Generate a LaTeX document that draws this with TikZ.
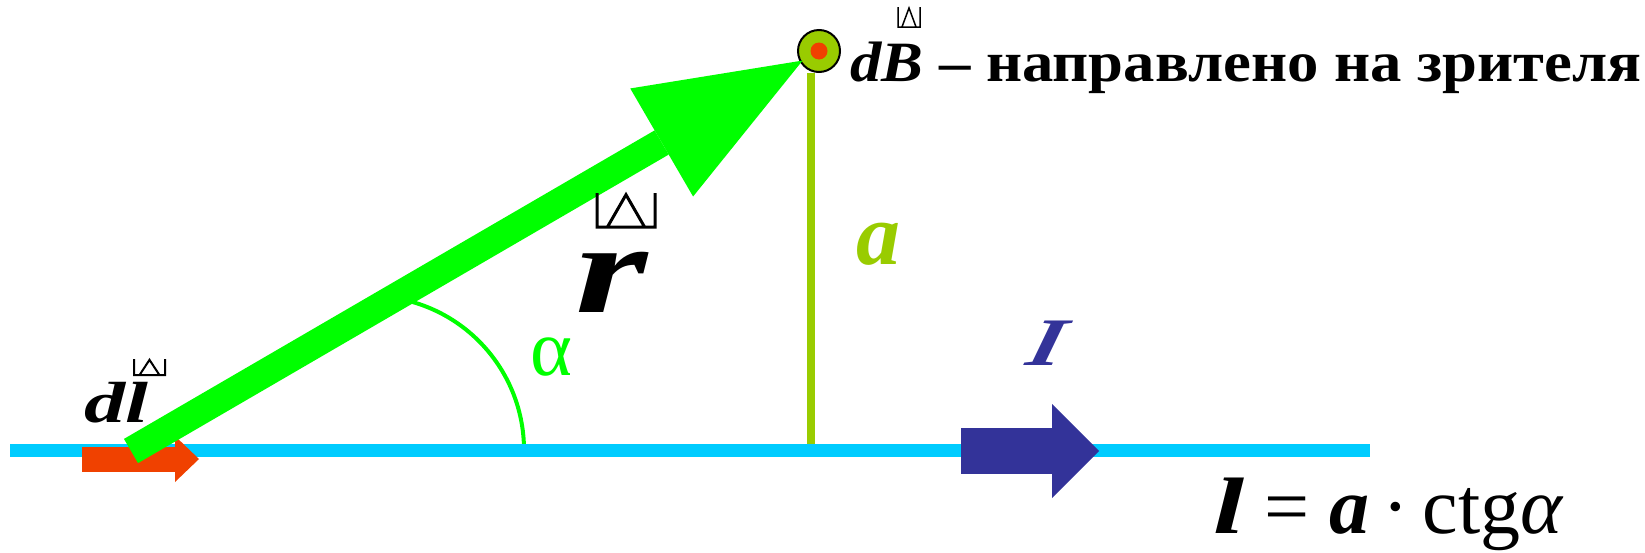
\documentclass[tikz,border=0pt]{standalone}
\usepackage{fontspec}
\setmainfont{Liberation Serif}
\newfontfamily\leanfont{Liberation Serif}[FakeSlant=0.18]
\usetikzlibrary{arrows.meta}
\definecolor{wireCyan}{RGB}{0,204,255}
\definecolor{radGreen}{RGB}{0,255,0}
\definecolor{fieldGreen}{RGB}{153,204,0}
\definecolor{currBlue}{RGB}{51,51,153}
\definecolor{elemRed}{RGB}{240,65,0}
% broken vector sign over a letter: x, y, width, height, line width
\newcommand{\vecmark}[5]{%
  \draw[line width=#5] (#1,#2) -- (#1,#2+#4) -- (#1+#3,#2+#4) -- (#1+#3,#2)
    (#1+0.18*#3,#2+#4) -- (#1+0.5*#3,#2+0.05*#4) -- (#1+0.82*#3,#2+#4);}
\newcommand{\wide}[2]{\scalebox{#1}[1]{#2}}
\tikzset{
  lbl/.style={inner sep=0pt,anchor=base},
  blockarrow/.style 2 args={-{Triangle[length=#1,width=#2,line width=0pt]}},
}

\begin{document}
\begin{tikzpicture}[x=1pt,y=-1pt]
  \useasboundingbox (0,0) rectangle (1645,552);
  % angle mark and height line
  \coordinate (arcend) at (524,450);
  \draw[radGreen,line width=4pt] (arcend) arc[start angle=0,end angle=74,radius=154pt];
  \node[circle,draw,line width=2pt,fill=fieldGreen,minimum size=42pt,inner sep=0pt] (pt) at (819,51) {};
  \node[circle,fill=elemRed,minimum size=17pt,inner sep=0pt] (ptdot) at (pt.center) {};
  \coordinate (foot) at (811,451);
  \draw[fieldGreen,line width=8pt] (pt.south -| foot) -- (foot);
  % wire
  \coordinate (wireL) at (10,450.5);
  \coordinate (wireR) at (1370,450.5);
  \draw[wireCyan,line width=13pt] (wireL) -- (wireR);
  % current element dl
  \coordinate (dlA) at (82,459);
  \coordinate (dlB) at (199,459);
  \draw[elemRed,line width=25pt,blockarrow={24pt}{46pt}] (dlA) -- (dlB);
  % current I
  \coordinate (curA) at (961,451);
  \coordinate (curB) at (1099,451);
  \draw[currBlue,line width=46pt,blockarrow={47pt}{94pt}] (curA) -- (curB);
  % radius vector r
  \coordinate (src) at (131,451);
  \draw[radGreen,line width=28pt,blockarrow={163pt}{125pt},shorten >=-3pt] (src) -- (pt);
  % labels
  \node[lbl,anchor=base west,font=\fontsize{57}{60}\selectfont\bfseries] (dBtxt) at (850,81)
    {\wide{1.1}{\textit{dB} – направлено на зрителя}};
  \vecmark{898}{7}{22}{20}{1.5pt}
  \node[lbl,font=\fontsize{128}{130}\selectfont\bfseries\itshape] (rlab) at (612,312) {\wide{1.45}{r}};
  \vecmark{597}{193}{58}{34}{3pt}
  \node[lbl,anchor=base west,font=\fontsize{58}{60}\selectfont\bfseries\itshape] (dllab) at (84,422) {\wide{1.42}{dl}};
  \vecmark{134}{359}{31}{16}{2pt}
  \node[lbl,text=fieldGreen,font=\fontsize{88}{90}\selectfont\bfseries\itshape] (alab) at (878,264) {a};
  \node[lbl,text=radGreen,font=\fontsize{80}{90}\selectfont] (anglab) at (551,375) {α};
  \node[lbl,text=currBlue,font=\leanfont\fontsize{68}{70}\selectfont\bfseries\itshape] (Ilab) at (1042,365) {\wide{1.35}{I}};
  \node[lbl,anchor=base west,font=\fontsize{80}{80}\selectfont] (formula) at (1213,533)
    {\textbf{\textit{\wide{1.4}{l}}} = \textbf{\textit{a}}\,·\,ctg\textit{α}};
\end{tikzpicture}
\end{document}
